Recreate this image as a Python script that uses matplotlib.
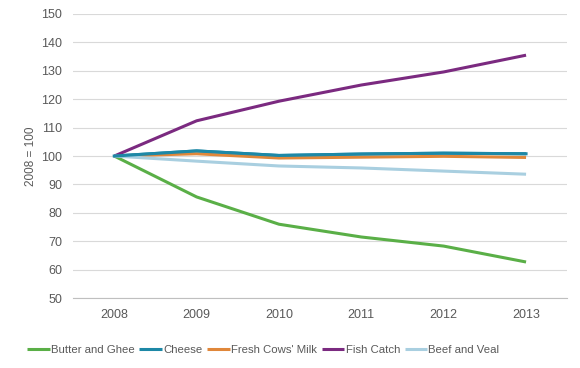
import matplotlib
matplotlib.use('Agg')
import matplotlib.pyplot as plt

years = ['2008', '2009', '2010', '2011', '2012', '2013']
butter = [100, 85.6, 76.0, 71.5, 68.3, 62.7]
cheese = [100, 101.8, 100.2, 100.7, 101.0, 100.8]
milk = [100, 100.8, 99.3, 99.6, 99.9, 99.5]
fish = [100, 112.4, 119.3, 125.0, 129.6, 135.5]
beef = [100, 98.2, 96.5, 95.8, 94.7, 93.6]

names = ['Butter and Ghee', 'Cheese', "Fresh Cows' Milk", 'Fish Catch', 'Beef and Veal']
colors = ['#5aaf47', '#1d88a6', '#e0873a', '#7b2a80', '#a9cfe0']
series = [butter, cheese, milk, fish, beef]

plt.rcParams['font.family'] = ['Liberation Sans', 'DejaVu Sans']

fig = plt.figure(figsize=(5.8, 3.68), dpi=100)
ax = fig.add_axes([0.126, 0.19, 0.852, 0.772])

x = range(len(years))
for s, c, n in zip(series, colors, names):
    ax.plot(x, s, color=c, lw=2.2, label=n, solid_capstyle='butt')

# redraw cheese on top so it shows above milk
ax.plot(x, cheese, color=colors[1], lw=2.2, zorder=3)

ax.set_xlim(-0.5, 5.5)
ax.set_ylim(50, 150)
ax.set_yticks(range(50, 151, 10))
ax.set_xticks(list(x))
ax.set_xticklabels(years)
ax.grid(axis='y', color='#d9d9d9', lw=0.8)
ax.set_axisbelow(True)
for sp in ['top', 'right', 'left']:
    ax.spines[sp].set_visible(False)
ax.spines['bottom'].set_color('#bfbfbf')
ax.tick_params(length=0, colors='#595959', labelsize=9, pad=8)
ax.set_ylabel('2008 = 100', color='#595959', fontsize=8.5, labelpad=3)

ax.legend(loc='upper center', bbox_to_anchor=(0.385, -0.13), ncol=5, frameon=False,
          fontsize=8.2, handlelength=2.0, handletextpad=0.1, columnspacing=0.4,
          labelcolor='#595959')

fig.savefig('out.png', dpi=100)
